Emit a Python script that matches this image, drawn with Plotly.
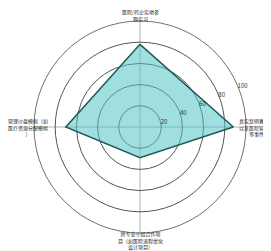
import math
import plotly.graph_objects as go

categories = ["医院/药企实地参观实习", "真实案例教学（如以某医院管理案例等事件）",
              "跨专业小组合作项目（如医院流程优化设计项目）", "管理沙盘模拟（如医疗资源分配模拟）"]
label_text = ["医院/药企实地参<br>观实习",
              "真实案例教学（如<br>以某医院管理案例<br>等事件）",
              "跨专业小组合作项<br>目（如医院流程优化<br>设计项目）",
              "管理沙盘模拟（如<br>医疗资源分配模拟<br>）"]
values = [78, 88, 29, 70]
radial_ticks = [20, 40, 60, 80, 100]

W, H = 271, 251
cx, cy, R = 132, 119, 106  # pixel centre/radius target of polar area
dom_x = [(cx - R) / W, (cx + R) / W]
dom_y = [(H - cy - R) / H, (H - cy + R) / H]

fig = go.Figure()
fig.add_trace(go.Scatterpolar(
    r=values + values[:1],
    theta=categories + categories[:1],
    mode="lines",
    fill="toself",
    fillcolor="rgba(80,196,196,0.55)",
    line=dict(color="#1f5a5a", width=1.5),
    hoverinfo="skip",
))

# category labels placed just outside the outer ring (clockwise from top)
label_r = [1.05, 1.12, 1.07, 1.06]
for i, txt in enumerate(label_text):
    ang = math.radians(90 - 90 * i)
    px = cx + label_r[i] * R * math.cos(ang)
    py = cy - label_r[i] * R * math.sin(ang)
    fig.add_annotation(
        x=px / W, y=(H - py) / H, xref="paper", yref="paper",
        text=txt, showarrow=False, xanchor="center", yanchor="middle",
        align="center",
        font=dict(size=5, color="#222", family="Noto Sans CJK SC"),
    )

fig.update_layout(
    width=W, height=H,
    margin=dict(l=0, r=0, t=0, b=0),
    paper_bgcolor="white",
    showlegend=False,
    polar=dict(
        domain=dict(x=dom_x, y=dom_y),
        bgcolor="white",
        radialaxis=dict(
            range=[0, 100], tickvals=radial_ticks, angle=25, tickangle=25,
            showline=False, ticks="", gridcolor="#555", gridwidth=0.5,
            tickfont=dict(size=6, color="#333", family="Noto Sans CJK SC"),
        ),
        angularaxis=dict(
            categoryorder="array", categoryarray=categories,
            rotation=90, direction="clockwise",
            showticklabels=False, ticks="",
            linecolor="#333", linewidth=0.7,
            gridcolor="#aab4bb", gridwidth=0.5,
        ),
    ),
)
fig.write_html("out.html")
